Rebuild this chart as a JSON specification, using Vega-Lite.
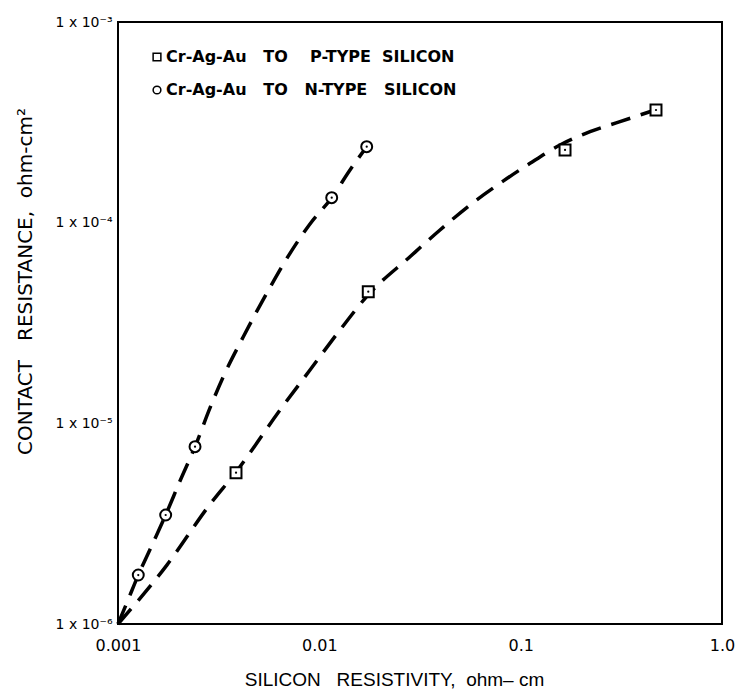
{
  "$schema": "https://vega.github.io/schema/vega-lite/v6.json",
  "width": 604,
  "height": 602,
  "autosize": {"type": "none"},
  "padding": {"left": 118, "top": 22, "right": 18, "bottom": 75},
  "background": "white",
  "config": {
    "view": {"stroke": "black", "strokeWidth": 2},
    "axis": {"grid": false, "ticks": false, "domain": false}
  },
  "datasets": {
    "curves": [
      {"series": "P", "x": 0.001, "y": 1e-6},
      {"series": "P", "x": 0.001745, "y": 1.96e-6},
      {"series": "P", "x": 0.002864, "y": 3.95e-6},
      {"series": "P", "x": 0.003856, "y": 5.721e-6},
      {"series": "P", "x": 0.006377, "y": 1.165e-5},
      {"series": "P", "x": 0.008986, "y": 1.844e-5},
      {"series": "P", "x": 0.01266, "y": 2.918e-5},
      {"series": "P", "x": 0.01745, "y": 4.36e-5},
      {"series": "P", "x": 0.0282, "y": 6.765e-5},
      {"series": "P", "x": 0.03974, "y": 9.192e-5},
      {"series": "P", "x": 0.05603, "y": 1.225e-4},
      {"series": "P", "x": 0.07895, "y": 1.571e-4},
      {"series": "P", "x": 0.1113, "y": 1.976e-4},
      {"series": "P", "x": 0.1568, "y": 2.438e-4},
      {"series": "P", "x": 0.2211, "y": 2.84e-4},
      {"series": "P", "x": 0.3114, "y": 3.186e-4},
      {"series": "P", "x": 0.4491, "y": 3.601e-4},
      {"series": "N", "x": 0.001, "y": 1e-6},
      {"series": "N", "x": 0.001121, "y": 1.317e-6},
      {"series": "N", "x": 0.001261, "y": 1.754e-6},
      {"series": "N", "x": 0.001476, "y": 2.475e-6},
      {"series": "N", "x": 0.001725, "y": 3.493e-6},
      {"series": "N", "x": 0.002032, "y": 5.16e-6},
      {"series": "N", "x": 0.002413, "y": 7.648e-6},
      {"series": "N", "x": 0.002864, "y": 1.193e-5},
      {"series": "N", "x": 0.003334, "y": 1.708e-5},
      {"series": "N", "x": 0.004192, "y": 2.702e-5},
      {"series": "N", "x": 0.005478, "y": 4.446e-5},
      {"series": "N", "x": 0.007149, "y": 7.034e-5},
      {"series": "N", "x": 0.008986, "y": 9.849e-5},
      {"series": "N", "x": 0.01152, "y": 1.332e-4},
      {"series": "N", "x": 0.0142, "y": 1.83e-4},
      {"series": "N", "x": 0.01719, "y": 2.391e-4}
    ],
    "points": [
      {"type": "Cr-Ag-Au\u00a0\u00a0\u00a0TO\u00a0\u00a0\u00a0\u00a0P-TYPE\u00a0\u00a0SILICON", "x": 0.003856, "y": 5.675e-6},
      {"type": "Cr-Ag-Au\u00a0\u00a0\u00a0TO\u00a0\u00a0\u00a0\u00a0P-TYPE\u00a0\u00a0SILICON", "x": 0.0175, "y": 4.529e-5},
      {"type": "Cr-Ag-Au\u00a0\u00a0\u00a0TO\u00a0\u00a0\u00a0\u00a0P-TYPE\u00a0\u00a0SILICON", "x": 0.1661, "y": 2.303e-4},
      {"type": "Cr-Ag-Au\u00a0\u00a0\u00a0TO\u00a0\u00a0\u00a0\u00a0P-TYPE\u00a0\u00a0SILICON", "x": 0.4701, "y": 3.643e-4},
      {"type": "Cr-Ag-Au\u00a0\u00a0\u00a0TO\u00a0\u00a0\u00a0N-TYPE\u00a0\u00a0\u00a0SILICON", "x": 0.001261, "y": 1.754e-6},
      {"type": "Cr-Ag-Au\u00a0\u00a0\u00a0TO\u00a0\u00a0\u00a0N-TYPE\u00a0\u00a0\u00a0SILICON", "x": 0.001725, "y": 3.493e-6},
      {"type": "Cr-Ag-Au\u00a0\u00a0\u00a0TO\u00a0\u00a0\u00a0N-TYPE\u00a0\u00a0\u00a0SILICON", "x": 0.002413, "y": 7.648e-6},
      {"type": "Cr-Ag-Au\u00a0\u00a0\u00a0TO\u00a0\u00a0\u00a0N-TYPE\u00a0\u00a0\u00a0SILICON", "x": 0.01152, "y": 1.332e-4},
      {"type": "Cr-Ag-Au\u00a0\u00a0\u00a0TO\u00a0\u00a0\u00a0N-TYPE\u00a0\u00a0\u00a0SILICON", "x": 0.01719, "y": 2.391e-4}
    ]
  },
  "encoding": {
    "x": {
      "field": "x",
      "type": "quantitative",
      "scale": {"type": "log", "domain": [0.001, 1]},
      "axis": {
        "values": [0.001, 0.01, 0.1, 1],
        "labelExpr": "datum.value > 0.5 ? '1.0' : datum.value > 0.05 ? '0.1' : datum.value > 0.005 ? '0.01' : '0.001'",
        "labelFont": "DejaVu Sans",
        "labelFontSize": 16,
        "labelColor": "black",
        "labelPadding": 13,
        "labelFlush": false,
        "labelOverlap": false,
        "title": "SILICON\u00a0\u00a0\u00a0RESISTIVITY,\u00a0\u00a0ohm\u2013\u00a0cm",
        "titleFont": "Liberation Sans",
        "titleFontSize": 19,
        "titleFontWeight": "normal",
        "titleColor": "black",
        "titlePadding": 17,
        "titleX": 276
      }
    },
    "y": {
      "field": "y",
      "type": "quantitative",
      "scale": {"type": "log", "domain": [1e-6, 1e-3]},
      "axis": {
        "values": [1e-6, 1e-5, 1e-4, 1e-3],
        "labelExpr": "'1 x 10' + (datum.value > 5e-4 ? '\u207b\u00b3' : datum.value > 5e-5 ? '\u207b\u2074' : datum.value > 5e-6 ? '\u207b\u2075' : '\u207b\u2076')",
        "labelFont": "DejaVu Sans",
        "labelFontSize": 14,
        "labelColor": "black",
        "labelPadding": 6,
        "labelFlush": false,
        "labelOverlap": false,
        "title": "CONTACT\u00a0\u00a0\u00a0RESISTANCE,\u00a0\u00a0ohm-cm\u00b2",
        "titleFont": "DejaVu Sans",
        "titleFontSize": 20,
        "titleFontWeight": "normal",
        "titleColor": "black",
        "titlePadding": 20,
        "titleY": 259
      }
    }
  },
  "layer": [
    {
      "data": {"name": "curves"},
      "mark": {"type": "line", "color": "black", "strokeWidth": 3.5, "strokeDash": [20, 11], "interpolate": "monotone"},
      "encoding": {"detail": {"field": "series", "type": "nominal"}}
    },
    {
      "data": {"name": "points"},
      "mark": {"type": "point", "filled": true, "fill": "white", "stroke": "black", "strokeWidth": 2, "size": 120, "opacity": 1},
      "encoding": {
        "shape": {
          "field": "type",
          "type": "nominal",
          "scale": {
            "domain": ["Cr-Ag-Au\u00a0\u00a0\u00a0TO\u00a0\u00a0\u00a0\u00a0P-TYPE\u00a0\u00a0SILICON", "Cr-Ag-Au\u00a0\u00a0\u00a0TO\u00a0\u00a0\u00a0N-TYPE\u00a0\u00a0\u00a0SILICON"],
            "range": ["square", "circle"]
          },
          "legend": {
            "title": null,
            "orient": "none",
            "legendX": 31,
            "legendY": 27,
            "padding": 0,
            "labelFont": "DejaVu Sans",
            "labelFontSize": 16,
            "labelFontWeight": "bold",
            "labelColor": "black",
            "labelLimit": 500,
            "labelOffset": 1,
            "symbolSize": 60,
            "rowPadding": 17,
            "encode": {
              "symbols": {
                "update": {
                  "fill": {"value": "white"},
                  "stroke": {"value": "black"},
                  "strokeWidth": {"value": 1.5},
                  "opacity": {"value": 1}
                }
              }
            }
          }
        }
      }
    },
    {
      "data": {"name": "points"},
      "mark": {"type": "circle", "color": "black", "size": 5, "opacity": 1}
    }
  ]
}
